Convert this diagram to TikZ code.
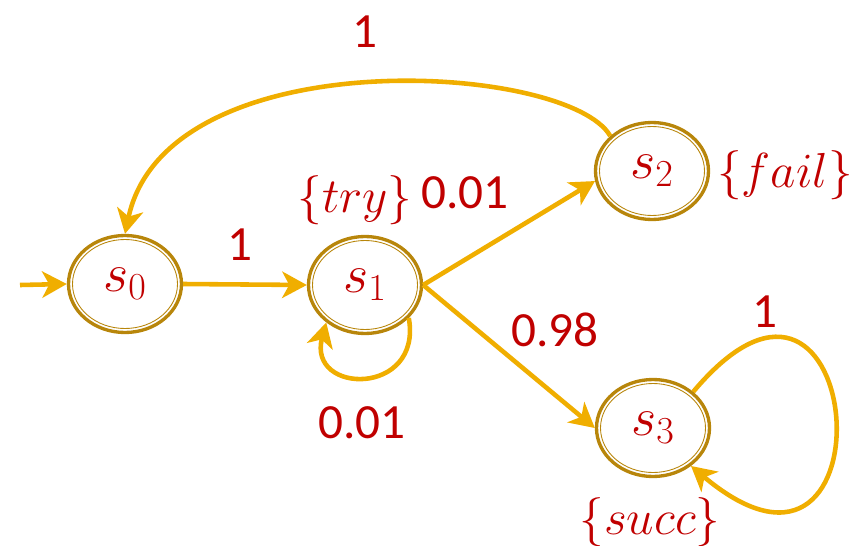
\RequirePackage{fix-cm}
\documentclass[tikz,border=0pt]{standalone}
\usepackage{fontspec}
\setmainfont{Carlito}
\usetikzlibrary{arrows.meta,shapes.geometric}
\definecolor{edgegold}{RGB}{240,174,0}
\definecolor{ringgold}{RGB}{184,134,11}
\definecolor{lblred}{RGB}{192,0,0}
\tikzset{
  markov/.style={ellipse,draw=ringgold,line width=1.9pt,minimum width=2.26cm,minimum height=1.94cm,inner sep=0pt,
    text=lblred,font=\fontsize{31}{36}\selectfont,
    path picture={\draw[ringgold,line width=0.5pt] (path picture bounding box.center) ellipse [x radius=1.05cm,y radius=0.89cm];}},
  trans/.style={draw=edgegold,line width=2.6pt,-{Stealth[length=14pt,width=15pt,inset=4pt]}},
  lbl/.style={text=lblred,font=\fontsize{28}{34}\selectfont,inner sep=0pt}
}
\begin{document}
\begin{tikzpicture}
\useasboundingbox (0,0) rectangle (17.2,10.9);
% states
\node[markov] (s0) at (2.500,5.220) {$s_0$};
\node[markov] (s1) at (7.300,5.200) {$s_1$};
\node[markov] (s2) at (13.040,7.480) {$s_2$};
\node[markov] (s3) at (13.060,2.340) {$s_3$};
\coordinate (init) at (0.400,5.200);
% transitions
\draw[trans] (init) -- (s0.west);
\draw[trans] (s0.east) -- (s1.west);
\draw[trans] (s1.east) -- (s2.190);
\draw[trans] (s1.east) -- (s3.west);
\draw[trans] (s1.-37) .. controls +(-80:1.6) and +(-105:1.5) .. (s1.-136);
\draw[trans] (s2.140) .. controls +(120:1.7) and +(78:4.0) .. (s0.north);
\draw[trans] (s3.42) .. controls +(50:5.4) and +(-40:5.4) .. (s3.-45);
% labels
\node[lbl] (p01) at (4.800,6.000) {1};
\node[lbl] (p12) at (9.300,7.040) {0.01};
\node[lbl] (p13) at (11.100,4.300) {0.98};
\node[lbl] (p11) at (7.240,2.440) {0.01};
\node[lbl] (p20) at (7.300,10.260) {1};
\node[lbl] (p33) at (15.300,4.660) {1};
\node[lbl] (ap1) at (7.100,6.900) {$\{try\}$};
\node[lbl] (ap2) at (15.700,7.400) {$\{fail\}$};
\node[lbl] (ap3) at (13.000,0.460) {$\{succ\}$};
\end{tikzpicture}
\end{document}
